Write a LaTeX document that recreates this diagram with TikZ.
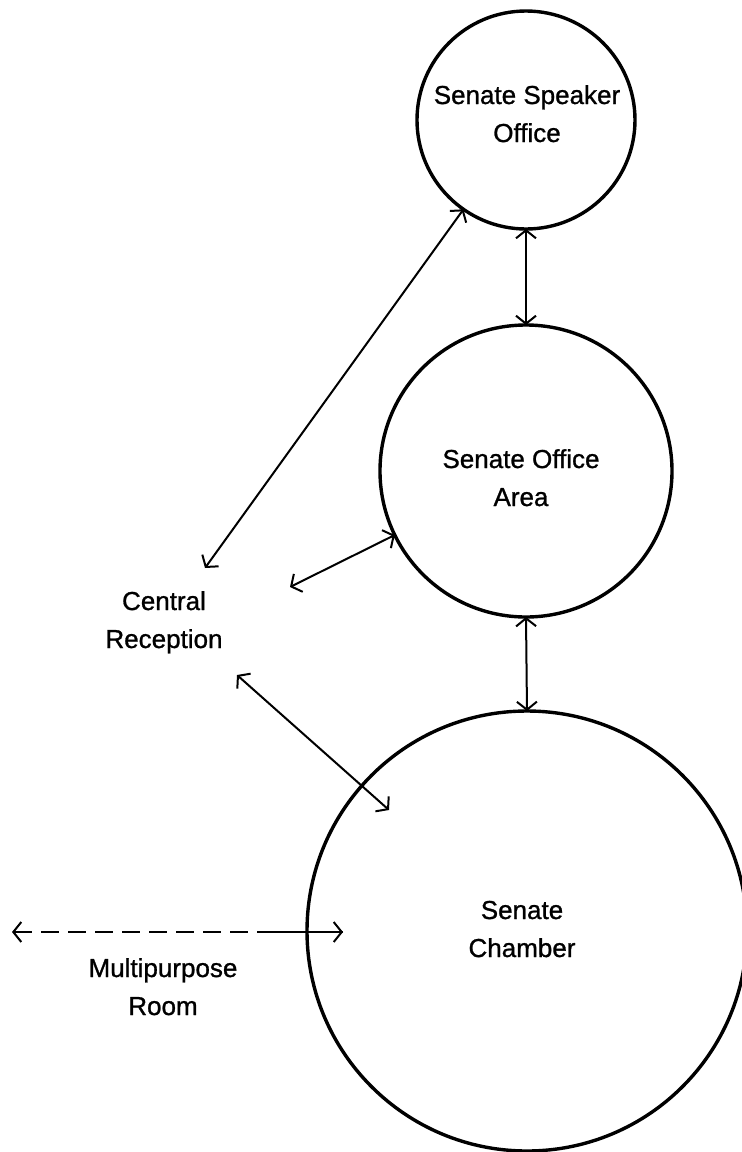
\documentclass[tikz,border=0pt]{standalone}
\usepackage{fontspec}
\setmainfont{Liberation Sans}[FakeBold=1]
\usetikzlibrary{arrows.meta}
\begin{document}
\begin{tikzpicture}[x=1pt,y=-1pt,
  room/.style={circle,draw,line width=3.4pt,inner sep=0pt,outer sep=0pt,minimum size=#1},
  barb/.tip={Straight Barb[length=8pt,width=20pt]},
  conn/.style={line width=2pt,barb-barb},
  lbl/.style={align=center,font=\fontsize{26}{38}\selectfont,anchor=base,inner sep=0pt}]
\path[use as bounding box] (0,0) rectangle (742,1152);
\clip (0,0) rectangle (742,1152);

% rooms
\node[room=218pt] (spk) at (526,120) {};
\node[room=292pt] (area) at (526,471) {};
\node[room=440pt] (chamber) at (527,931) {};

% labels (anchored at the baseline of the last line)
\node[lbl] (spkT) at (527,142) {Senate Speaker\\Office};
\node[lbl] (areaT) at (521,506) {Senate Office\\Area};
\node[lbl] (chamberT) at (522,957) {Senate\\Chamber};
\node[lbl] (recT) at (164,648) {Central\\Reception};
\node[lbl] (mpT) at (163,1015) {Multipurpose\\Room};

% free ends of connectors
\coordinate (recA) at (205,568);
\coordinate (recB) at (290,587);
\coordinate (recC) at (237,675);
\coordinate (chIn) at (389,810);
\coordinate (mpL) at (12,932);
\coordinate (mpR) at (343,932);
\coordinate (mpS) at (272,932);

% connectors
\draw[conn] (spk.south) -- (area.north);
\draw[conn] (area.south) -- (chamber.north);
\draw[conn] (recA) -- (spk.235);
\draw[conn] (recB) -- (area.206);
\draw[conn] (recC) -- (chIn);
\draw[conn,dash pattern=on 18pt off 9pt] (mpL) -- (mpR);
\draw[line width=2pt] (mpS) -- (mpR);
\end{tikzpicture}
\end{document}
